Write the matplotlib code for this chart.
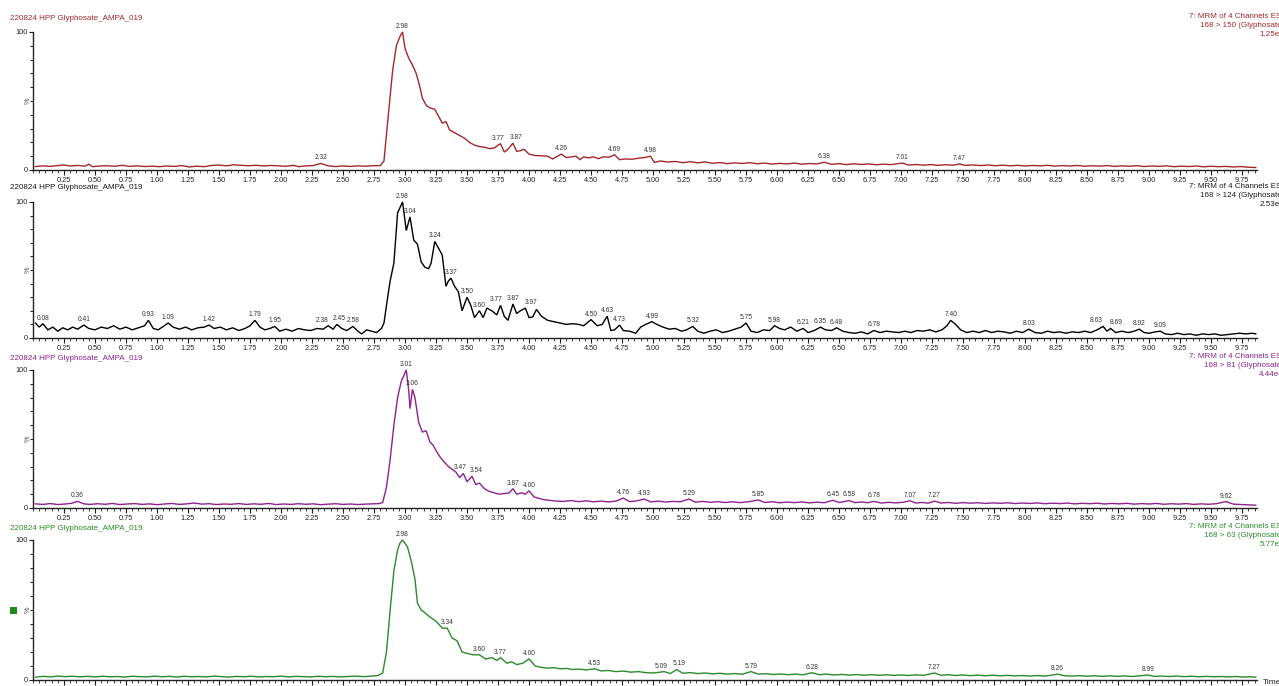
import numpy as np
import matplotlib
matplotlib.use('Agg')
import matplotlib.pyplot as plt
from matplotlib.patches import Rectangle
from matplotlib.ticker import MultipleLocator, FixedLocator

plt.rcParams['font.family'] = ['Liberation Sans', 'DejaVu Sans']

# ---------------- data ----------------
sample_name = "220824 HPP Glyphosate_AMPA_019"
channel_title = "7: MRM of 4 Channels ES-"
transitions = ["168 > 150 (Glyphosate)", "168 > 124 (Glyphosate)",
               "168 > 81 (Glyphosate)", "168 > 63 (Glyphosate)"]
intensities = ["1.25e4", "2.53e4", "4.44e4", "5.77e4"]

t1 = [0.02,0.08,0.14,0.20,0.25,0.30,0.36,0.42,0.45,0.48,0.54,0.60,0.66,0.72,0.78,0.84,0.90,0.96,
      1.02,1.08,1.14,1.20,1.26,1.32,1.38,1.44,1.50,1.56,1.62,1.68,1.74,1.80,1.86,1.92,1.98,2.04,
      2.10,2.14,2.20,2.26,2.32,2.38,2.44,2.50,2.56,2.62,2.68,2.74,2.80,2.83,2.86,2.90,2.93,2.96,
      2.98,3.00,3.03,3.06,3.09,3.12,3.14,3.17,3.20,3.24,3.27,3.30,3.33,3.36,3.40,3.44,3.48,3.52,
      3.56,3.60,3.64,3.68,3.72,3.75,3.77,3.80,3.83,3.87,3.90,3.93,3.96,4.00,4.05,4.10,4.15,4.19,
      4.26,4.30,4.34,4.38,4.41,4.44,4.48,4.52,4.56,4.60,4.64,4.69,4.73,4.78,4.83,4.88,4.93,4.98,
      5.01,5.06,5.12,5.18,5.24,5.30,5.36,5.42,5.48,5.54,5.60,5.66,5.72,5.78,5.84,5.90,5.96,6.02,
      6.08,6.14,6.20,6.26,6.32,6.38,6.44,6.50,6.56,6.62,6.68,6.74,6.80,6.86,6.92,7.01,7.06,7.12,
      7.18,7.24,7.30,7.36,7.42,7.47,7.52,7.58,7.64,7.70,7.76,7.82,7.88,7.94,8.00,8.06,8.12,8.18,
      8.24,8.30,8.36,8.42,8.48,8.54,8.60,8.66,8.72,8.78,8.84,8.90,8.96,9.02,9.08,9.14,9.20,9.26,
      9.32,9.38,9.44,9.50,9.56,9.62,9.68,9.74,9.80,9.86]
v1 = [2.5,3.0,2.6,3.2,3.6,2.9,3.3,2.8,4.2,2.4,2.9,3.1,2.7,3.4,2.6,3.0,2.5,2.8,
      2.4,2.9,2.6,3.2,2.2,2.8,2.4,3.3,3.6,3.0,3.8,3.4,3.1,3.4,2.9,3.3,3.0,2.7,
      3.4,2.4,3.0,3.2,4.8,3.0,2.5,2.9,2.6,3.0,2.7,3.1,3.2,6.5,35,72,90,97,
      100,88,81,76,70,60,52,47,45,44,39,34,35,29,27,25,23,20,
      18,17,16.5,15.5,16,18,19,13,15,19.5,13.5,14,15,11.5,10.5,10.3,10,8,
      11.5,9,9.5,10,7.5,9.5,8.8,9.5,8.2,9.6,9.2,11,7.5,8,7.8,8.5,9,10,
      5.5,6.5,5.8,6.2,5.3,6.0,5.2,5.8,4.9,5.4,4.6,5.2,4.7,5.3,4.5,5.0,4.3,4.8,
      4.4,5.0,4.2,4.7,4.4,5.6,4.1,4.6,3.9,4.5,4.0,4.4,3.8,4.2,3.9,5.0,3.6,4.0,
      3.5,3.9,3.4,3.8,3.5,4.4,3.3,3.7,3.2,3.6,3.1,3.5,3.0,3.4,2.9,3.3,3.0,3.4,
      2.8,3.2,2.9,3.3,2.7,3.1,2.8,3.2,2.6,3.0,2.7,3.1,2.5,2.9,2.6,3.0,2.4,2.8,
      2.5,2.9,2.3,2.7,2.4,2.6,2.2,2.5,2.0,1.8]
peaks1 = [2.32, 2.98, 3.77, 3.87, 4.26, 4.69, 4.98, 6.38, 7.01, 7.47]

t2 = [0.02,0.05,0.08,0.12,0.16,0.20,0.24,0.28,0.32,0.36,0.41,0.45,0.50,0.55,0.60,0.65,0.70,0.75,
      0.80,0.85,0.90,0.93,0.97,1.01,1.05,1.09,1.13,1.18,1.23,1.28,1.33,1.38,1.42,1.46,1.51,1.56,
      1.61,1.66,1.71,1.75,1.79,1.83,1.87,1.91,1.95,1.99,2.04,2.09,2.14,2.19,2.24,2.29,2.34,2.38,
      2.42,2.45,2.49,2.53,2.58,2.62,2.65,2.69,2.73,2.77,2.81,2.83,2.86,2.88,2.91,2.94,2.98,3.01,
      3.04,3.07,3.10,3.13,3.16,3.19,3.21,3.24,3.27,3.30,3.33,3.35,3.37,3.40,3.43,3.46,3.50,3.53,
      3.56,3.60,3.63,3.66,3.70,3.74,3.77,3.80,3.83,3.87,3.90,3.93,3.97,4.00,4.03,4.06,4.10,4.15,
      4.20,4.25,4.30,4.35,4.40,4.44,4.50,4.55,4.59,4.63,4.66,4.69,4.73,4.76,4.81,4.86,4.90,4.94,
      4.99,5.03,5.08,5.13,5.18,5.23,5.27,5.32,5.36,5.41,5.46,5.51,5.56,5.61,5.66,5.71,5.75,5.79,
      5.84,5.89,5.94,5.98,6.02,6.06,6.11,6.16,6.21,6.25,6.30,6.35,6.39,6.44,6.48,6.53,6.58,6.63,
      6.68,6.73,6.78,6.83,6.88,6.93,6.98,7.03,7.08,7.13,7.18,7.23,7.28,7.33,7.37,7.40,7.44,7.48,
      7.53,7.58,7.63,7.68,7.73,7.78,7.83,7.88,7.93,7.98,8.03,8.08,8.13,8.18,8.23,8.28,8.33,8.38,
      8.43,8.48,8.53,8.58,8.63,8.66,8.69,8.73,8.78,8.83,8.88,8.92,8.96,9.00,9.05,9.09,9.13,9.18,
      9.23,9.28,9.33,9.38,9.43,9.48,9.53,9.58,9.63,9.68,9.73,9.78,9.83,9.86]
v2 = [11,8,10.5,6,8,5,7.5,6,8,6.5,9.5,7,6,8,7,9,6.5,8,
      6,7.5,9,13,7,6,8.5,11,8,6.5,8,6,7.5,8,9.5,7,8,6,
      7.5,5.5,7,9,13,8,6,7,8.5,5,6.5,5,7,6,5.5,7,6.5,9,
      6.5,10,7,5.5,8.5,5,3,6,5,4,7,11,30,42,55,92,100,79,
      89,72,69,56,52,51,55,71,66,61,38,42,44,38,34,20,30,24,
      15,20,15,22,20,17,24,16,13,25,18,20,22,15,15.5,21,16,13,
      12,11,10,10.5,10,9,13.5,9,10,16,5.5,6,9.5,5.5,5,3.5,8,10,
      12,10,8,6.5,7,5,6,8.5,5,3.5,5,6,4,5,6.5,8,11,5,
      4,6,5.5,9,7,6,8,5,7,4,5.5,8,6,5.5,7.5,5,4,3.5,
      4.5,3,5.5,4,5,4.5,4,5,4,5.5,5,6,4.5,6,9,13,10,6,
      4,5,4,5.5,4,5,4.5,3.5,5,4,6.5,4,3.5,5,4,4.5,3.5,4.5,
      4,5,4,6,8.5,5,7,4,5,4,5,6.5,4,3.5,4.5,5,3,2.5,
      3.5,2.5,3,2,3,2.5,3,2,2.5,3,3.5,3,3.5,3]
peaks2 = [0.08, 0.41, 0.93, 1.09, 1.42, 1.79, 1.95, 2.38, 2.45, 2.58, 2.98, 3.04, 3.24, 3.37,
          3.50, 3.60, 3.77, 3.87, 3.97, 4.50, 4.63, 4.73, 4.99, 5.32, 5.75, 5.98, 6.21, 6.35,
          6.48, 6.78, 7.40, 8.03, 8.63, 8.69, 8.92, 9.09]

t3 = [0.02,0.08,0.14,0.20,0.26,0.31,0.36,0.41,0.46,0.52,0.58,0.64,0.70,0.76,0.82,0.88,0.94,1.00,
      1.06,1.12,1.18,1.24,1.30,1.36,1.42,1.48,1.54,1.60,1.66,1.72,1.78,1.84,1.90,1.96,2.02,2.08,
      2.14,2.20,2.26,2.32,2.38,2.44,2.50,2.56,2.62,2.68,2.74,2.79,2.82,2.85,2.88,2.91,2.94,2.97,
      3.01,3.03,3.04,3.06,3.08,3.11,3.14,3.17,3.20,3.23,3.26,3.29,3.32,3.35,3.38,3.41,3.44,3.47,
      3.50,3.54,3.57,3.60,3.64,3.68,3.72,3.76,3.80,3.84,3.87,3.90,3.94,3.97,4.00,4.04,4.08,4.12,
      4.17,4.22,4.28,4.34,4.40,4.46,4.52,4.58,4.64,4.70,4.76,4.81,4.87,4.93,4.98,5.04,5.10,5.16,
      5.22,5.29,5.34,5.40,5.46,5.52,5.58,5.64,5.70,5.76,5.85,5.90,5.96,6.02,6.08,6.14,6.20,6.26,
      6.32,6.38,6.45,6.50,6.54,6.58,6.63,6.68,6.73,6.78,6.84,6.90,6.96,7.02,7.07,7.12,7.17,7.22,
      7.27,7.32,7.38,7.44,7.50,7.56,7.62,7.68,7.74,7.80,7.86,7.92,7.98,8.04,8.10,8.16,8.22,8.28,
      8.34,8.40,8.46,8.52,8.58,8.64,8.70,8.76,8.82,8.88,8.94,9.00,9.06,9.12,9.18,9.24,9.30,9.36,
      9.42,9.48,9.54,9.62,9.68,9.74,9.80,9.86]
v3 = [3.0,2.6,3.2,2.5,2.9,3.4,4.8,3.0,2.6,3.1,2.7,3.3,2.5,2.9,3.2,2.6,3.0,2.4,
      2.9,3.3,2.6,3.0,3.6,2.8,3.1,2.5,2.9,2.7,3.2,2.6,3.0,2.7,3.3,2.5,2.9,2.6,
      3.1,2.7,3.0,2.4,2.8,3.1,2.6,2.9,2.5,2.8,3.0,3.2,4,15,35,60,80,92,
      100,85,72,86,80,62,55,56,48,45,40,36,33,30,28,26,22,25,
      19,23,17,18,14,12,11,10,10.5,11,14,10,11,10,12.5,8,7,6,
      5.5,5,4.8,5.4,4.6,5.2,4.5,5.0,4.4,5.0,7.2,4.6,5.2,6.5,4.4,5.0,4.3,4.8,
      4.5,6.5,4.2,4.8,4.1,4.6,4.0,4.5,3.9,4.4,5.8,4.0,4.5,3.8,4.3,3.9,4.4,3.7,
      4.2,3.8,5.6,4.0,4.6,5.4,3.9,4.4,3.8,4.8,3.6,4.1,3.7,4.2,5.2,3.6,4.0,3.5,
      5.0,3.6,4.0,3.4,3.9,3.5,3.8,3.3,3.7,3.4,3.8,3.2,3.6,3.3,3.7,3.1,3.5,3.2,
      3.6,3.0,3.4,3.1,3.5,2.9,3.3,3.0,3.4,2.8,3.2,2.9,3.3,2.7,3.1,2.8,3.2,2.6,
      3.0,2.7,3.1,4.6,2.8,2.5,2.3,2.0]
peaks3 = [0.36, 3.01, 3.06, 3.47, 3.54, 3.87, 4.00, 4.76, 4.93, 5.29, 5.85, 6.45, 6.58,
          6.78, 7.07, 7.27, 9.62]

t4 = [0.02,0.08,0.14,0.20,0.26,0.32,0.38,0.44,0.50,0.56,0.62,0.68,0.74,0.80,0.86,0.92,0.98,1.04,
      1.10,1.16,1.22,1.28,1.34,1.40,1.46,1.52,1.58,1.64,1.70,1.76,1.82,1.88,1.94,2.00,2.06,2.12,
      2.18,2.24,2.30,2.36,2.42,2.48,2.54,2.60,2.66,2.72,2.78,2.82,2.85,2.88,2.91,2.94,2.96,2.98,
      3.02,3.05,3.08,3.10,3.13,3.16,3.20,3.25,3.30,3.34,3.38,3.42,3.46,3.50,3.55,3.60,3.65,3.70,
      3.74,3.77,3.82,3.86,3.90,3.95,4.00,4.05,4.10,4.15,4.20,4.25,4.30,4.35,4.40,4.46,4.53,4.58,
      4.64,4.70,4.76,4.82,4.88,4.94,5.00,5.04,5.09,5.14,5.19,5.24,5.30,5.36,5.42,5.48,5.54,5.60,
      5.66,5.72,5.79,5.85,5.91,5.97,6.03,6.09,6.15,6.21,6.28,6.34,6.40,6.46,6.52,6.58,6.64,6.70,
      6.76,6.82,6.88,6.94,7.00,7.06,7.12,7.18,7.27,7.32,7.38,7.44,7.50,7.56,7.62,7.68,7.74,7.80,
      7.86,7.92,7.98,8.04,8.10,8.16,8.21,8.26,8.32,8.38,8.44,8.50,8.56,8.62,8.68,8.74,8.80,8.86,
      8.92,8.99,9.04,9.10,9.16,9.22,9.28,9.34,9.40,9.46,9.52,9.58,9.64,9.70,9.76,9.82,9.86]
v4 = [2.0,2.6,2.2,2.8,2.4,2.7,2.3,2.6,2.2,2.7,2.3,2.5,2.1,2.7,2.4,2.2,2.8,2.3,
      2.6,2.1,2.7,2.3,2.5,2.2,2.8,2.4,2.1,2.6,2.3,2.7,2.2,2.5,2.3,2.8,2.2,2.6,
      2.4,2.2,2.7,2.3,2.6,2.2,2.5,2.8,2.4,2.7,3.2,5,20,50,78,93,98,100,
      95,85,72,55,50,48,45,42,37,37,30,28,20,19,18,18,15,16,
      14,16,12,13,11,12,15,10,9,8.5,8.8,8.0,8.3,7.5,7.8,7.2,8,6.5,
      6.8,6.0,6.4,5.6,6.0,5.3,5.0,5.4,6,4.6,7.5,4.8,5.3,4.6,5.0,4.4,4.8,4.2,
      4.6,4.1,6,4.2,4.5,3.9,4.3,3.8,4.2,3.7,5.2,3.8,4.2,3.6,4.0,3.5,3.9,3.4,
      3.8,3.4,3.7,3.3,3.6,3.2,3.7,3.3,5.0,3.4,3.8,3.2,3.6,3.1,3.5,3.0,3.4,3.0,
      3.3,2.9,3.2,2.8,3.2,2.8,3.4,4.2,3.0,2.8,3.1,2.7,3.0,2.6,3.0,2.6,2.9,2.5,
      2.9,3.6,2.6,2.8,2.5,2.8,2.4,2.7,2.3,2.6,2.3,2.5,2.2,2.5,2.1,2.3,2.0]
peaks4 = [2.98, 3.34, 3.60, 3.77, 4.00, 4.53, 5.09, 5.19, 5.79, 6.28, 7.27, 8.26, 8.99]

times = [t1, t2, t3, t4]
values = [v1, v2, v3, v4]
peak_labels = [peaks1, peaks2, peaks3, peaks4]
colors = ['#a3282b', '#000000', '#8e2290', '#2b8a2b']
header_colors = ['#a3282b', '#1a1a1a', '#8e2290', '#2b8a2b']

# horizontal nudges (points) for crowded peak labels: (panel, label) -> dx
label_nudge = {(0, 3.77): -2, (0, 3.87): 2, (1, 2.38): -4, (1, 2.45): 2,
               (1, 3.77): -3, (1, 3.87): 0, (1, 3.97): 4, (1, 8.63): -5, (1, 8.69): 4,
               (2, 3.47): -2, (2, 3.54): 3, (3, 5.09): -2, (3, 5.19): 2}

major_ticks = [0.25 * k for k in range(1, 40)]

# ---------------- layout ----------------
W, H = 1279, 686
fig = plt.figure(figsize=(W / 100, H / 100), dpi=100)

zero_px = [170, 338, 508, 680]
hund_px = [32, 202, 370, 540]
head_px = [18, 188, 358, 528]
x0_px, x1_px = 33, 1257
xmax = 9.87

for i in range(4):
    bottom = 1 - zero_px[i] / H
    height = (zero_px[i] - hund_px[i]) / H
    ax = fig.add_axes([x0_px / W, bottom, (x1_px - x0_px) / W, height])
    ax.plot(times[i], values[i], color=colors[i], lw=1.0, solid_joinstyle='miter', clip_on=False)
    ax.set_xlim(0, xmax)
    ax.set_ylim(0, 100)
    for s in ['top', 'right']:
        ax.spines[s].set_visible(False)
    for s in ['left', 'bottom']:
        ax.spines[s].set_color('#222222')
        ax.spines[s].set_linewidth(1.0)
    ax.xaxis.set_major_locator(FixedLocator(major_ticks))
    ax.xaxis.set_minor_locator(MultipleLocator(0.05))
    ax.set_xticklabels(['%.2f' % v for v in major_ticks])
    ax.set_yticks([0, 100])
    ax.set_yticklabels(['0', '100'])
    ax.yaxis.set_minor_locator(MultipleLocator(10))
    ax.tick_params(axis='x', which='major', length=3.5, width=0.8, pad=1.5,
                   labelsize=5.3, colors='#222222')
    ax.tick_params(axis='x', which='minor', length=2.0, width=0.6, colors='#222222')
    ax.tick_params(axis='y', which='major', length=3, width=0.8, pad=1,
                   labelsize=5.3, colors='#222222')
    ax.tick_params(axis='y', which='minor', length=2.5, width=0.7, colors='#222222')
    ax.text(-5.0 / (x1_px - x0_px), 50, '%', rotation=90, fontsize=5.3, color='#444444',
            ha='center', va='center', transform=ax.get_yaxis_transform())

    # peak labels
    tt = np.array(times[i])
    vv = np.array(values[i])
    for p in peak_labels[i]:
        j = int(np.argmin(np.abs(tt - p)))
        dx = label_nudge.get((i, p), 0)
        ax.annotate('%.2f' % p, xy=(p, vv[j]), xytext=(dx, 1.5), textcoords='offset points',
                    ha='center', va='bottom', fontsize=4.8, color='#333333',
                    annotation_clip=False)

    # headers
    fig.text(10 / W, 1 - head_px[i] / H, sample_name, fontsize=5.8,
             color=header_colors[i], ha='left', va='center')
    right_lines = [channel_title, transitions[i], intensities[i]]
    for k, line in enumerate(right_lines):
        fig.text(1284 / W, 1 - (head_px[i] - 1 + 8.5 * k) / H, line, fontsize=5.8,
                 color=header_colors[i], ha='right', va='center')

fig.text(1263 / W, 1 - 683 / H, 'Time', fontsize=6, color='#222222', ha='left', va='center')
fig.patches.append(Rectangle((10 / W, 1 - 614 / H), 7 / W, 7 / H, transform=fig.transFigure,
                             facecolor='#1f8a1f', edgecolor='none'))

fig.savefig('out.png', dpi=100)
